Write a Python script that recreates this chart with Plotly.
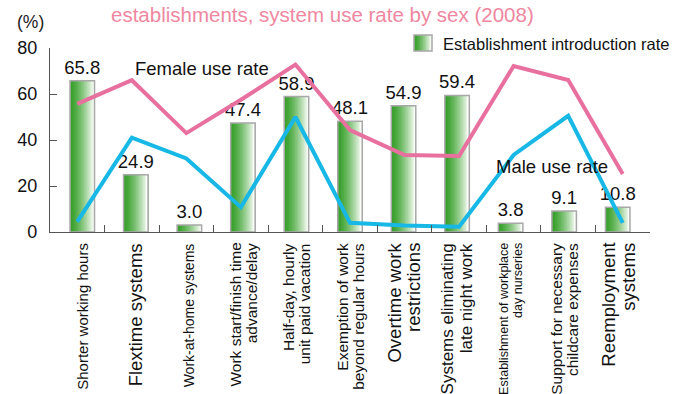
import plotly.graph_objects as go

# ---- data -------------------------------------------------------------
categories = [
    "Shorter working hours",
    "Flextime systems",
    "Work-at-home systems",
    "Work start/finish time|advance/delay",
    "Half-day, hourly|unit paid vacation",
    "Exemption of work|beyond regular hours",
    "Overtime work|restrictions",
    "Systems eliminating|late night work",
    "Establishment of workplace|day nurseries",
    "Support for necessary|childcare expenses",
    "Reemployment|systems",
]
label_sizes = [15, 18.5, 14, 15.5, 15.5, 15.5, 18.5, 17, 12.5, 15.5, 18.5]

introduction_rate = [65.8, 24.9, 3.0, 47.4, 58.9, 48.1, 54.9, 59.4, 3.8, 9.1, 10.8]
female_use_rate = [55.7, 66.0, 43.0, 57.5, 72.8, 44.3, 33.5, 33.0, 72.2, 66.1, 25.2]
male_use_rate = [4.5, 41.0, 32.0, 10.8, 50.0, 4.0, 2.8, 2.3, 33.5, 50.5, 4.0]

y_ticks = [0, 20, 40, 60, 80]

# ---- styling ----------------------------------------------------------
FONT = "Liberation Sans, Arial, Helvetica, sans-serif"
FEMALE = "#e8709f"
MALE = "#17b7e6"
TITLE_PINK = "#ef87a0"
AXIS = "#555555"
BAR_EDGE = "#a8a8a8"
GREEN_DARK = (56, 160, 44)
GREEN_LIGHT = (250, 253, 248)

W, H = 680, 394
ML, MR, MT, MB = 50, 30, 48, 162
PW, PH = W - ML - MR, H - MT - MB


def px(x):
    return (x - ML) / PW


def py(y):
    return (H - MB - y) / PH


def mix(t):
    t = t ** 1.35
    r, g, b = (round(a + (c - a) * t) for a, c in zip(GREEN_DARK, GREEN_LIGHT))
    return f"rgb({r},{g},{b})"


xs = list(range(len(categories)))
fig = go.Figure()

# gradient-filled bars: overlapping slices, each one lighter and narrower
bar_w = 0.4575
n_slices = 16
for j in range(n_slices):
    left = -bar_w / 2 + j * bar_w / n_slices
    fig.add_trace(go.Bar(
        x=xs, y=introduction_rate, xaxis="x", yaxis="y",
        width=bar_w / 2 - left, offset=left,
        marker=dict(color=mix(j / (n_slices - 1)), line=dict(width=0)),
        showlegend=False, hoverinfo="skip",
    ))

# bar outline + value labels
fig.add_trace(go.Bar(
    x=xs, y=introduction_rate, xaxis="x", yaxis="y",
    width=bar_w, offset=-bar_w / 2,
    marker=dict(color="rgba(0,0,0,0)", line=dict(color=BAR_EDGE, width=1.5)),
    text=[f"{v:.1f}" for v in introduction_rate],
    textposition="outside", constraintext="none", cliponaxis=False,
    textfont=dict(family=FONT, size=18.5, color="#111111"),
    name="Establishment introduction rate", showlegend=False,
))

# use-rate lines sit on the overlaying axis so they draw above the bars
fig.add_trace(go.Scatter(
    x=xs, y=female_use_rate, xaxis="x2", yaxis="y", mode="lines",
    line=dict(color=FEMALE, width=4), name="Female use rate", showlegend=False,
))
fig.add_trace(go.Scatter(
    x=xs, y=male_use_rate, xaxis="x2", yaxis="y", mode="lines",
    line=dict(color=MALE, width=4), name="Male use rate", showlegend=False,
))

annotations = [
    dict(text="establishments, system use rate by sex (2008)", x=px(109), y=py(14),
         xanchor="left", yanchor="middle", font=dict(size=20.5, color=TITLE_PINK)),
    dict(text="(%)", x=px(15), y=py(22), xanchor="left", yanchor="middle",
         font=dict(size=17.5, color="#222222")),
    dict(text="Establishment introduction rate", x=px(441), y=py(43.5),
         xanchor="left", yanchor="middle", font=dict(size=16.5, color="#111111")),
    dict(text="Female use rate", x=px(133), y=py(68.5),
         xanchor="left", yanchor="middle", font=dict(size=18.5, color="#111111")),
    dict(text="Male use rate", x=px(494), y=py(166.5),
         xanchor="left", yanchor="middle", font=dict(size=18.5, color="#111111")),
]
for a in annotations:
    a.update(xref="paper", yref="paper", showarrow=False)
    a["font"]["family"] = FONT

# rotated category labels, one annotation per line so spacing stays tight
for i, (cat, size) in enumerate(zip(categories, label_sizes)):
    lines = cat.split("|")
    step = size * 1.08
    for k, line in enumerate(lines):
        shift = (k - (len(lines) - 1) / 2) * step
        annotations.append(dict(
            text=line, x=i, xref="x", y=py(242), yref="paper",
            xanchor="center", yanchor="top", textangle=-90, xshift=shift,
            showarrow=False, borderpad=0,
            font=dict(family=FONT, size=size, color="#111111"),
        ))

# legend swatch with the same green gradient
shapes = []
sx0, sx1, sy0, sy1 = 414, 432, 35, 51
n_sw = 12
for j in range(n_sw):
    shapes.append(dict(
        type="rect", xref="paper", yref="paper",
        x0=px(sx0 + (sx1 - sx0) * j / n_sw), x1=px(sx1),
        y0=py(sy1), y1=py(sy0), line=dict(width=0),
        fillcolor=mix(j / (n_sw - 1)),
    ))
shapes.append(dict(
    type="rect", xref="paper", yref="paper", x0=px(sx0), x1=px(sx1),
    y0=py(sy1), y1=py(sy0), line=dict(color=BAR_EDGE, width=1.5),
))

fig.update_layout(
    width=W, height=H, autosize=False,
    margin=dict(l=ML, r=MR, t=MT, b=MB, pad=0),
    paper_bgcolor="white", plot_bgcolor="white",
    barmode="overlay", showlegend=False,
    font=dict(family=FONT, color="#111111"),
    annotations=annotations, shapes=shapes,
    # bar axis: bars are spaced slightly tighter than the category grid
    xaxis=dict(
        range=[-0.603, 10.603], showgrid=False, zeroline=False,
        showline=False, ticks="", showticklabels=False,
    ),
    # category axis: baseline with dividers between categories
    xaxis2=dict(
        range=[-0.5, len(categories) - 0.5], overlaying="x", anchor="y", side="bottom",
        showgrid=False, zeroline=False,
        showline=True, linecolor=AXIS, linewidth=1.2,
        tickmode="array", tickvals=[i - 0.5 for i in range(len(categories) + 1)],
        ticks="inside", ticklen=7, tickcolor=AXIS, tickwidth=1.2,
        showticklabels=False,
    ),
    yaxis=dict(
        range=[0, 80], tickmode="array", tickvals=y_ticks,
        showgrid=False, zeroline=False, showline=True, linecolor=AXIS, linewidth=1.2,
        ticks="inside", ticklen=7, tickcolor=AXIS, tickwidth=1.2,
        tickfont=dict(family=FONT, size=18, color="#111111"),
        ticklabelstandoff=8,
    ),
)

fig.write_html("out.html")
